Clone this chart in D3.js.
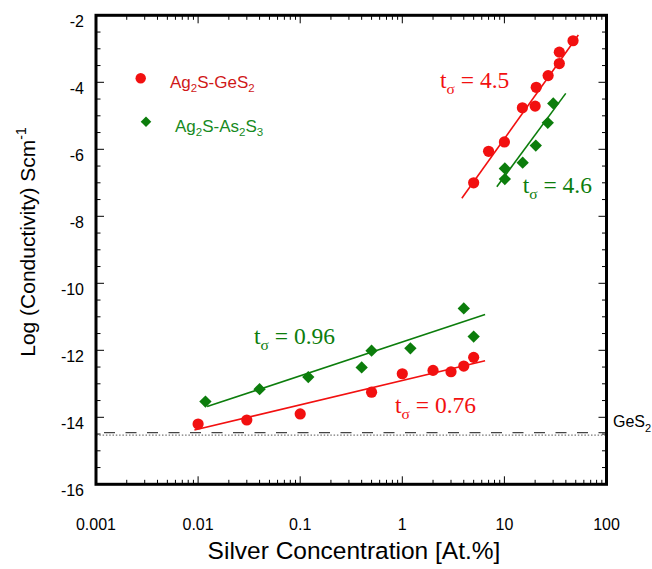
<!DOCTYPE html>
<html>
<head>
<meta charset="utf-8">
<script src="https://cdn.jsdelivr.net/npm/d3@7"></script>
<style>
  html, body { margin: 0; padding: 0; background: #fff; }
  svg { display: block; }
</style>
</head>
<body>
<svg id="chart" width="652" height="569"></svg>
<script>
// ---- Data ----
const xTicks = [0.001, 0.01, 0.1, 1, 10, 100];
const xTickLabels = ["0.001", "0.01", "0.1", "1", "10", "100"];
const yTicks = [-2, -4, -6, -8, -10, -12, -14, -16];
const yTickLabels = ["-2", "-4", "-6", "-8", "-10", "-12", "-14", "-16"];

// Ag2S-GeS2 (red circles)
const gesConc = [0.01, 0.03, 0.1, 0.5, 1, 2, 3, 4, 5, 5, 7, 10, 15, 20, 20.5, 26.8, 34.5, 34.5, 47];
const gesLogSigma = [-14.20, -14.08, -13.90, -13.25, -12.70, -12.60, -12.64, -12.47, -12.21,
                     -7.00, -6.06, -5.78, -4.76, -4.71, -4.15, -3.80, -3.44, -3.10, -2.76];

// Ag2S-As2S3 (green diamonds)
const asConc = [0.0118, 0.04, 0.12, 0.4, 0.5, 1.2, 4, 5, 10.1, 10.1, 15.1, 20.3, 26.6, 30.1];
const asLogSigma = [-13.53, -13.16, -12.80, -12.51, -12.01, -11.94, -10.75, -11.59,
                    -6.57, -6.89, -6.40, -5.89, -5.21, -4.63];

// Fit lines (endpoints: [conc, logSigma])
const gesFitLow = [[0.0092, -14.38], [6.47, -12.31]];
const gesFitHigh = [[3.83, -7.46], [53, -2.59]];
const asFitLow = [[0.01225, -13.68], [6.47, -10.93]];
const asFitHigh = [[8.43, -7.12], [39.9, -4.33]];

// GeS2 reference levels
const ges2Dashed = -14.46;
const ges2Dotted = -14.53;

// Annotations (t_sigma values and their anchor in data coordinates)
const annotations = [
  { text: "4.5", series: "ges", conc: 2.34, logS: -4.17 },
  { text: "4.6", series: "as", conc: 15.1, logS: -7.30 },
  { text: "0.96", series: "as", conc: 0.0353, logS: -11.81 },
  { text: "0.76", series: "ges", conc: 0.848, logS: -13.88 }
];

// ---- Layout ----
const RED = "#f21010";
const GREEN = "#0c7d0c";
const svg = d3.select("#chart");
const L = 96, R = 606.5, T = 15.3, B = 484.3;

const x = d3.scaleLog().domain([0.001, 100]).range([L, R]);
const y = d3.scaleLinear().domain([-16, -2]).range([B, T]);

// minor ticks
const xMinor = [];
for (let e = -3; e < 2; e++) for (let m = 2; m <= 9; m++) xMinor.push(m * Math.pow(10, e));
const yMinor = d3.range(-16, -2, 0.5).filter(v => Math.abs(v % 2) > 1e-9);

const g = svg.append("g");

// Ticks (inside, on all four sides)
const tk = g.append("g").attr("stroke", "#000").attr("stroke-width", 1);
function hTick(v, len) {
  tk.append("line").attr("x1", x(v)).attr("x2", x(v)).attr("y1", B).attr("y2", B - len);
  tk.append("line").attr("x1", x(v)).attr("x2", x(v)).attr("y1", T).attr("y2", T + len);
}
function vTick(v, len) {
  tk.append("line").attr("y1", y(v)).attr("y2", y(v)).attr("x1", L).attr("x2", L + len);
  tk.append("line").attr("y1", y(v)).attr("y2", y(v)).attr("x1", R).attr("x2", R - len);
}
xTicks.forEach(v => hTick(v, 8));
xMinor.forEach(v => hTick(v, 4.5));
yTicks.forEach(v => vTick(v, 8));
yMinor.forEach(v => vTick(v, 4.5));

// Tick labels
const lab = g.append("g").attr("font-family", "'Liberation Sans', Arial, sans-serif")
  .attr("font-size", 16).attr("fill", "#000");
xTicks.forEach((v, i) => {
  lab.append("text").attr("x", x(v)).attr("y", 530).attr("text-anchor", "middle").text(xTickLabels[i]);
});
yTicks.forEach((v, i) => {
  lab.append("text").attr("x", 84).attr("y", y(v) + 12).attr("text-anchor", "end").text(yTickLabels[i]);
});

// GeS2 reference lines
g.append("line").attr("x1", L).attr("x2", R).attr("y1", y(ges2Dotted)).attr("y2", y(ges2Dotted))
  .attr("stroke", "#777").attr("stroke-width", 1.2).attr("stroke-dasharray", "1.5,1.8");
g.append("line").attr("x1", L + 8).attr("x2", R).attr("y1", y(ges2Dashed)).attr("y2", y(ges2Dashed))
  .attr("stroke", "#444").attr("stroke-width", 1.2).attr("stroke-dasharray", "11,10.5");
const gl = g.append("text").attr("x", 613).attr("y", 427)
  .attr("font-family", "'Liberation Sans', Arial, sans-serif").attr("font-size", 16).attr("fill", "#000");
gl.append("tspan").text("GeS");
gl.append("tspan").attr("font-size", 11).attr("dy", 5).text("2");

// Fit lines
const line = d3.line().x(d => x(d[0])).y(d => y(d[1]));
[[gesFitLow, RED], [gesFitHigh, RED], [asFitLow, GREEN], [asFitHigh, GREEN]].forEach(([d, c]) => {
  g.append("path").attr("d", line(d)).attr("fill", "none").attr("stroke", c).attr("stroke-width", 1.6);
});

// Markers
gesConc.forEach((c, i) => {
  g.append("circle").attr("cx", x(c)).attr("cy", y(gesLogSigma[i])).attr("r", 5.6).attr("fill", RED);
});
const diamond = d3.symbol().type(d3.symbolSquare).size(76);
asConc.forEach((c, i) => {
  g.append("path").attr("d", diamond())
    .attr("transform", `translate(${x(c)},${y(asLogSigma[i])}) rotate(45)`).attr("fill", GREEN);
});

// Annotations  t_sigma = ...
annotations.forEach(a => {
  const col = a.series === "ges" ? RED : GREEN;
  const t = g.append("text").attr("x", x(a.conc)).attr("y", y(a.logS))
    .attr("font-family", "'Liberation Serif', 'Times New Roman', serif").attr("font-size", 23.5).attr("fill", col);
  t.append("tspan").text("t");
  t.append("tspan").attr("font-size", 15.5).attr("dy", 6).text("σ");
  t.append("tspan").attr("dy", -6).text(" = " + a.text);
});

// Legend
const leg = g.append("g").attr("font-family", "'Liberation Sans', Arial, sans-serif").attr("font-size", 17);
leg.append("circle").attr("cx", 140.7).attr("cy", 78.3).attr("r", 5.2).attr("fill", RED);
const l1 = leg.append("text").attr("x", 170).attr("y", 88).attr("fill", "#d01818");
l1.append("tspan").text("Ag");
l1.append("tspan").attr("font-size", 11.5).attr("dy", 4).text("2");
l1.append("tspan").attr("dy", -4).text("S-GeS");
l1.append("tspan").attr("font-size", 11.5).attr("dy", 4).text("2");
leg.append("path").attr("d", d3.symbol().type(d3.symbolSquare).size(56)())
  .attr("transform", "translate(146,121.7) rotate(45)").attr("fill", GREEN);
const l2 = leg.append("text").attr("x", 175).attr("y", 131.7).attr("fill", "#178a22");
l2.append("tspan").text("Ag");
l2.append("tspan").attr("font-size", 11.5).attr("dy", 4).text("2");
l2.append("tspan").attr("dy", -4).text("S-As");
l2.append("tspan").attr("font-size", 11.5).attr("dy", 4).text("2");
l2.append("tspan").attr("dy", -4).text("S");
l2.append("tspan").attr("font-size", 11.5).attr("dy", 4).text("3");

// Frame
g.append("rect").attr("x", L).attr("y", T).attr("width", R - L).attr("height", B - T)
  .attr("fill", "none").attr("stroke", "#000").attr("stroke-width", 3);

// Axis titles
svg.append("text").attr("x", 354).attr("y", 559).attr("text-anchor", "middle")
  .attr("font-family", "'Liberation Sans', Arial, sans-serif").attr("font-size", 24.5).attr("fill", "#000")
  .text("Silver Concentration [At.%]");
const yt = svg.append("text").attr("transform", "translate(35,242) rotate(-90)").attr("text-anchor", "middle")
  .attr("font-family", "'Liberation Sans', Arial, sans-serif").attr("font-size", 21).attr("fill", "#000");
yt.append("tspan").text("Log (Conductivity) Scm");
yt.append("tspan").attr("font-size", 14).attr("dy", -9).text("-1");
</script>
</body>
</html>
